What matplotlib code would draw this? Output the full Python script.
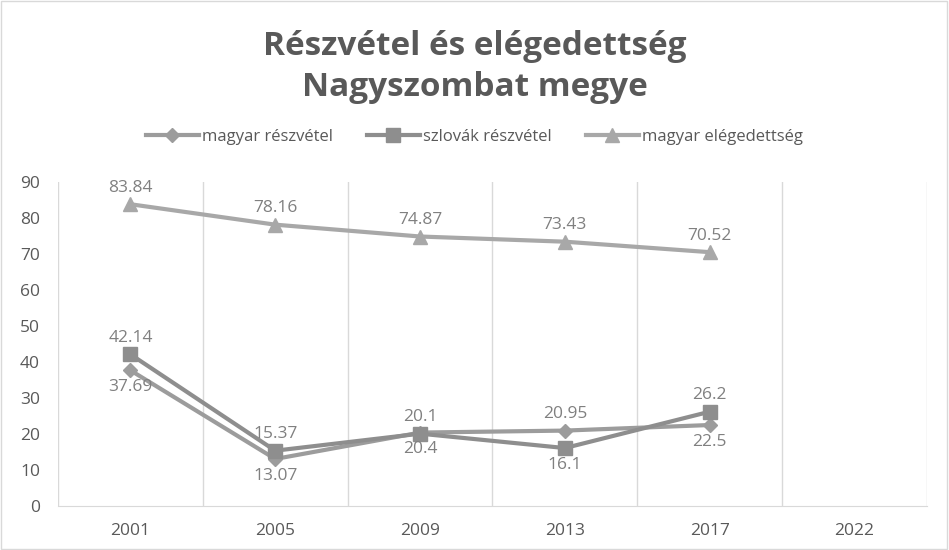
import numpy as np
import matplotlib.pyplot as plt

# adatok
years = ['2001', '2005', '2009', '2013', '2017', '2022']
magyar_reszvetel = [37.69, 13.07, 20.4, 20.95, 22.5]
szlovak_reszvetel = [42.14, 15.37, 20.1, 16.1, 26.2]
magyar_elegedettseg = [83.84, 78.16, 74.87, 73.43, 70.52]

# cimkek helye: 1 = fent, -1 = lent
pos_magyar = [-1, -1, -1, 1, -1]
pos_szlovak = [1, 1, 1, -1, 1]
pos_eleg = [1, 1, 1, 1, 1]

plt.rcParams['font.family'] = ['Open Sans', 'DejaVu Sans']

fig = plt.figure(figsize=(9.49, 5.5), dpi=100)
ax = fig.add_axes([0.0611, 0.08, 0.9157, 0.589])

x = np.arange(len(magyar_reszvetel))

def draw(vals, marker, ms, color, label, pos):
    ax.plot(x, vals, marker=marker, markersize=ms, color=color, lw=3,
            label=label, solid_joinstyle='round')
    for xi, v, p in zip(x, vals, pos):
        ax.annotate(f'{v:g}', (xi, v), xytext=(0, 12 * p), textcoords='offset points',
                    ha='center', va='center', fontsize=12.5, color='#808080')

draw(magyar_reszvetel, 'D', 7.5, '#9c9c9c', 'magyar részvétel', pos_magyar)
draw(szlovak_reszvetel, 's', 10, '#8e8e8e', 'szlovák részvétel', pos_szlovak)
draw(magyar_elegedettseg, '^', 10, '#a8a8a8', 'magyar elégedettség', pos_eleg)

ax.set_xlim(-0.5, len(years) - 0.5)
ax.set_ylim(0, 90)
ax.set_yticks(range(0, 91, 10))
ax.set_xticks(range(len(years)))
ax.set_xticklabels(years)
for b in np.arange(-0.5, len(years), 1):
    ax.axvline(b, color='#d9d9d9', lw=1, zorder=0)

for s in ['top', 'right', 'left']:
    ax.spines[s].set_visible(False)
ax.spines['bottom'].set_color('#d9d9d9')
ax.tick_params(axis='both', length=0, labelsize=12.5, colors='#595959')
ax.tick_params(axis='x', pad=12)
ax.tick_params(axis='y', pad=13)

fig.text(0.5, 0.916, 'Részvétel és elégedettség', ha='center', va='center',
         fontsize=24, fontweight='bold', color='#595959')
fig.text(0.5, 0.840, 'Nagyszombat megye', ha='center', va='center',
         fontsize=24, fontweight='bold', color='#595959')

fig.legend(loc='center', bbox_to_anchor=(0.5, 0.751), ncol=3, frameon=False,
           fontsize=12, labelcolor='#595959', handlelength=3.2, columnspacing=2.0,
           handletextpad=0.2)

fig.patches.append(plt.Rectangle((0.001, 0.001), 0.997, 0.997, transform=fig.transFigure,
                                 fill=False, edgecolor='#d9d9d9', lw=1))

fig.savefig('out.png', dpi=100)
